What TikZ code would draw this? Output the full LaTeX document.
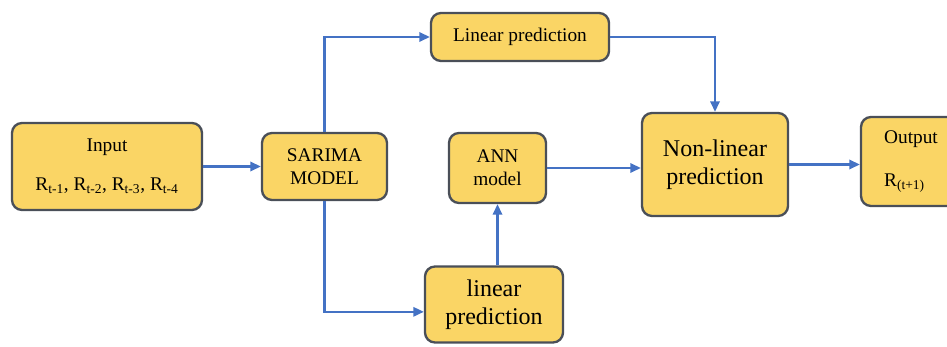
\documentclass[tikz,border=0pt]{standalone}
\usepackage{fontspec}
\setmainfont{Liberation Serif}
\usetikzlibrary{positioning,arrows.meta}

\definecolor{boxfill}{HTML}{FAD565}
\definecolor{boxline}{HTML}{4A4F58}
\definecolor{linkblue}{HTML}{4472C4}

\begin{document}
\begin{tikzpicture}[x=0.03cm,y=-0.03cm,
    box/.style={rectangle,rounded corners=0.3cm,draw=boxline,fill=boxfill,line width=2pt,
        align=center,inner sep=2pt,font=\fontsize{16.5}{20}\selectfont},
    bigbox/.style={box,font=\fontsize{20.5}{24}\selectfont},
    link/.style={draw=linkblue,line width=1.8pt,-{Triangle[length=9pt,width=8pt]}}]
    \useasboundingbox (0,0) rectangle (947,347);

    \node[box,minimum width=5.7cm,minimum height=2.61cm] (inp) at (107,166.5)
        {Input\\[13pt] R\textsubscript{t-1}, R\textsubscript{t-2}, R\textsubscript{t-3}, R\textsubscript{t-4}};
    \node[box,minimum width=3.75cm,minimum height=2.01cm] (sarima) at (324.5,166.5) {SARIMA\\MODEL};
    \node[box,minimum width=5.34cm,minimum height=1.44cm] (lintop) at (520,37) {Linear prediction};
    \node[box,minimum width=2.91cm,minimum height=2.1cm] (ann) at (497.5,168) {ANN\\model};
    \node[bigbox,minimum width=4.14cm,minimum height=2.28cm] (linbot) at (494,304.5) {linear\\prediction};
    \node[bigbox,minimum width=4.38cm,minimum height=3.09cm] (nonlin) at (715,164.5) {Non-linear\\prediction};
    \node[box,align=left,minimum width=3.0cm,minimum height=2.67cm] (out) at (911,161.5)
        {Output\\[17pt] R\textsubscript{(t+1)}};

    \draw[link] (inp) -- (sarima);
    \draw[link] (sarima.north) |- (lintop.west);
    \draw[link] (sarima.south) |- ([yshift=-0.22cm]linbot.west);
    \draw[link] (ann.south |- linbot.north) -- (ann.south);
    \draw[link] (ann.east) -- (ann.east -| nonlin.west);
    \draw[link] (lintop.east) -| (nonlin.north);
    \draw[link] (nonlin.east) -- (nonlin.east -| out.west);
\end{tikzpicture}
\end{document}
